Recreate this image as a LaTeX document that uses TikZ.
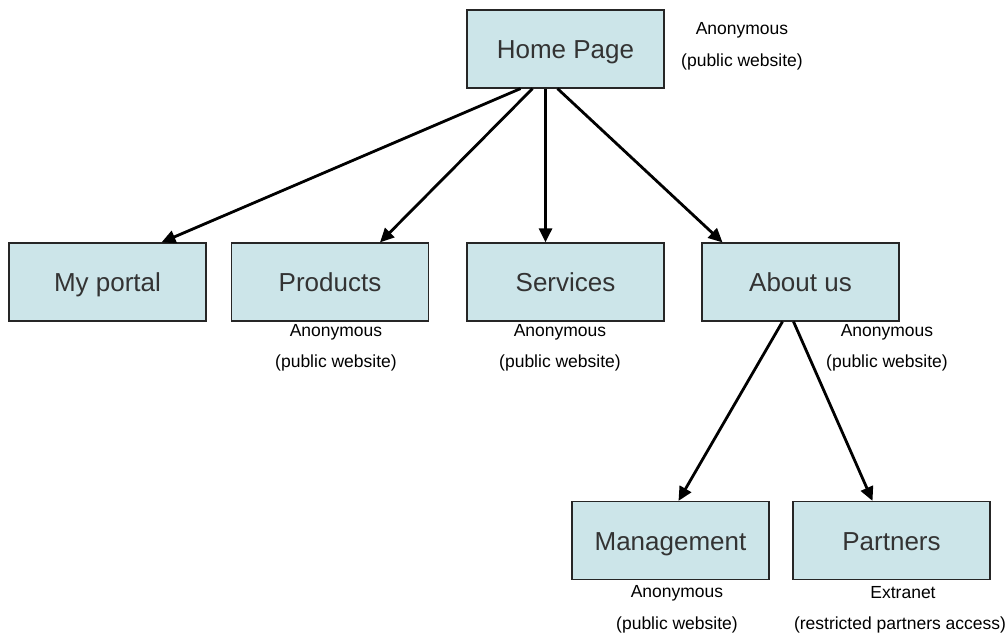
\documentclass[tikz,border=0pt]{standalone}
\usepackage{fontspec}
\setmainfont{Liberation Sans}
\usetikzlibrary{arrows.meta}
\definecolor{boxfill}{RGB}{204,229,233}
\tikzset{
  pagebox/.style={draw=black!85, line width=1.2pt, fill=boxfill,
    minimum width=197pt, minimum height=78pt, inner sep=0pt,
    text height=19pt, text depth=0pt,
    font=\fontsize{26}{30}\selectfont, text=black!80},
  note/.style={font=\fontsize{17.5}{21}\selectfont, inner sep=0pt},
  link/.style={line width=2.8pt, -{Triangle[length=14pt,width=13pt]}}
}
\begin{document}
\begin{tikzpicture}[x=1pt,y=-1pt]
  \useasboundingbox (0,0) rectangle (1008,632);
  % pages
  \node[pagebox] (home) at (565.5,49) {Home Page};
  \node[pagebox] (portal) at (107.5,282) {My portal};
  \node[pagebox] (products) at (330,282) {Products};
  \node[pagebox] (services) at (565.5,282) {Services};
  \node[pagebox] (about) at (800.5,282) {About us};
  \node[pagebox] (mgmt) at (670.5,540.5) {Management};
  \node[pagebox] (partners) at (891.5,540.5) {Partners};
  % access notes
  \node[note] (homeA) at (742,30) {Anonymous};
  \node[note] (homeB) at (742,62) {(public website)};
  \node[note] (prodA) at (336,332) {Anonymous};
  \node[note] (prodB) at (336,363) {(public website)};
  \node[note] (servA) at (560,332) {Anonymous};
  \node[note] (servB) at (560,363) {(public website)};
  \node[note] (aboutA) at (887,332) {Anonymous};
  \node[note] (aboutB) at (887,363) {(public website)};
  \node[note] (mgmtA) at (677,593) {Anonymous};
  \node[note] (mgmtB) at (677,625) {(public website)};
  \node[note] (partA) at (903,593) {Extranet};
  \node[note] (partB) at (900,625) {(restricted partners access)};
  % links
  \draw[link] ([xshift=-45pt]home.south) -- ([xshift=54pt]portal.north);
  \draw[link] ([xshift=-33pt]home.south) -- ([xshift=50pt]products.north);
  \draw[link] ([xshift=-20pt]home.south) -- ([xshift=-20pt]services.north);
  \draw[link] ([xshift=-8pt]home.south) -- ([xshift=-78pt]about.north);
  \draw[link] ([xshift=-18pt]about.south) -- ([xshift=8pt]mgmt.north);
  \draw[link] ([xshift=-7pt]about.south) -- ([xshift=-19pt]partners.north);
\end{tikzpicture}
\end{document}
